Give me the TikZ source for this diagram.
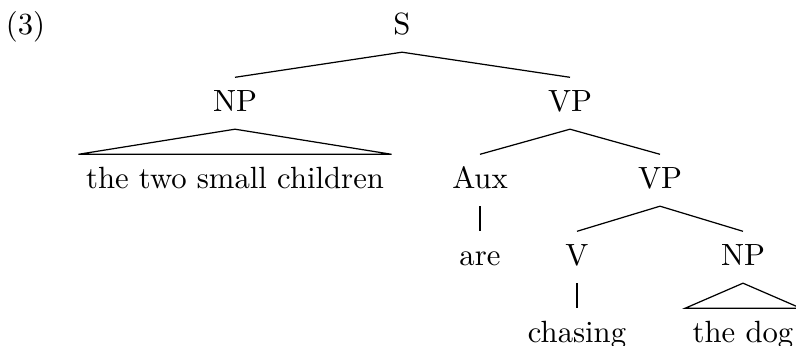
\documentclass[tikz,border=0pt]{standalone}
\begin{document}
\begin{tikzpicture}[x=0.3257pt,y=-0.3257pt,
  lab/.style={anchor=base, text height=6.83pt, text depth=1.13pt, inner ysep=4.27pt, inner xsep=2.3pt},
  branch/.style={line width=0.4pt, line join=miter}]
\useasboundingbox (0,0) rectangle (796,346);
\node[anchor=base, inner sep=0pt] (ex) at (25.5,35) {(3)};
\node[lab] (S) at (402,35) {S};
\node[lab] (NP) at (235,112) {NP};
\node[lab] (VP) at (570,112) {VP};
\node[lab] (children) at (235,189) {the two small children};
\node[lab] (Aux) at (480,189) {Aux};
\node[lab] (VPb) at (660,189) {VP};
\node[lab] (are) at (480,266) {are};
\node[lab] (V) at (577,266) {V};
\node[lab] (NPb) at (743,266) {NP};
\node[lab] (chasing) at (577,343) {chasing};
\node[lab] (dog) at (743,343) {the dog};
\draw[branch] (S.south) -- (NP.north);
\draw[branch] (S.south) -- (VP.north);
\draw[branch] (NP.south) -- (children.north west) -- (children.north east) -- cycle;
\draw[branch] (VP.south) -- (Aux.north);
\draw[branch] (VP.south) -- (VPb.north);
\draw[branch] (Aux.south) -- (are.north);
\draw[branch] (VPb.south) -- (V.north);
\draw[branch] (VPb.south) -- (NPb.north);
\draw[branch] (V.south) -- (chasing.north);
\draw[branch] (NPb.south) -- (dog.north west) -- (dog.north east) -- cycle;
\end{tikzpicture}
\end{document}
